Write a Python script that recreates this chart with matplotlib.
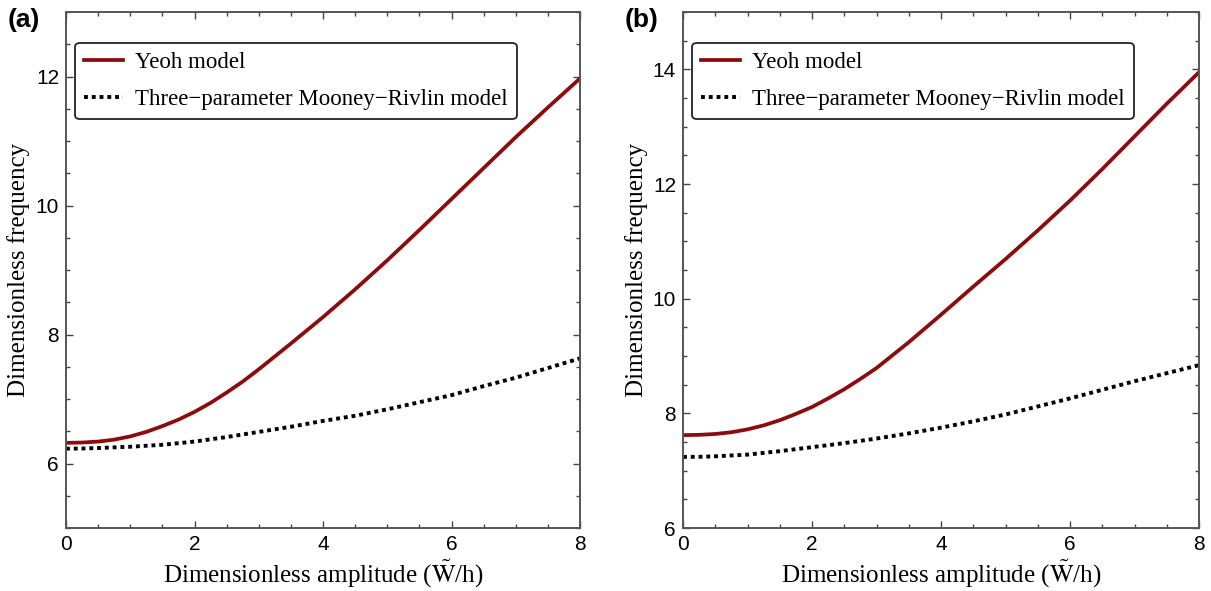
import numpy as np
import matplotlib
matplotlib.use("Agg")
import matplotlib.pyplot as plt
from matplotlib.ticker import MultipleLocator

# amplitude grid (finer where the curves bend)
amp = [0, 0.25, 0.5, 0.75, 1, 1.25, 1.5, 1.75, 2, 2.25, 2.5, 2.75, 3,
       3.5, 4, 4.5, 5, 5.5, 6, 6.5, 7, 7.5, 8]

# panel (a)
yeoh_a = [6.32, 6.325, 6.34, 6.37, 6.42, 6.49, 6.58, 6.68, 6.80, 6.94,
          7.10, 7.27, 7.46, 7.86, 8.27, 8.70, 9.15, 9.62, 10.10, 10.58,
          11.06, 11.52, 11.97]
mr_a = [6.23, 6.232, 6.24, 6.25, 6.26, 6.275, 6.29, 6.315, 6.34, 6.375,
        6.41, 6.45, 6.49, 6.57, 6.66, 6.74, 6.84, 6.95, 7.06, 7.20,
        7.33, 7.48, 7.63]

# panel (b)
yeoh_b = [7.62, 7.625, 7.64, 7.67, 7.72, 7.79, 7.88, 7.99, 8.11, 8.26,
          8.42, 8.60, 8.79, 9.24, 9.72, 10.21, 10.69, 11.19, 11.71, 12.26,
          12.83, 13.40, 13.95]
mr_b = [7.24, 7.242, 7.25, 7.265, 7.28, 7.31, 7.34, 7.375, 7.41, 7.445,
        7.48, 7.52, 7.56, 7.65, 7.75, 7.86, 7.98, 8.12, 8.26, 8.41,
        8.56, 8.70, 8.84]

labels = ["Yeoh model", "Three\u2212parameter Mooney\u2212Rivlin model"]

plt.rcParams["mathtext.fontset"] = "stix"
serif = "Liberation Serif"
sans = "Liberation Sans"

fig = plt.figure(figsize=(12.11, 5.91), dpi=100)
ax1 = fig.add_axes((66 / 1211, 1 - 528 / 591, 514 / 1211, 516 / 591))
ax2 = fig.add_axes((683 / 1211, 1 - 528 / 591, 516 / 1211, 516 / 591))

panels = [(ax1, yeoh_a, mr_a, (5, 13), "(a)", -0.07),
          (ax2, yeoh_b, mr_b, (6, 15), "(b)", -0.068)]

for ax, yeoh, mr, ylim, tag, ylab_x in panels:
    ax.plot(amp, yeoh, color="#8e0b0b", lw=2.7, solid_joinstyle="round",
            label=labels[0])
    ax.plot(amp, mr, color="black", lw=2.8, linestyle=(0, (1, 1.0)),
            label=labels[1])
    ax.set_xlim(0, 8)
    ax.set_ylim(*ylim)
    ax.xaxis.set_major_locator(MultipleLocator(2))
    ax.xaxis.set_minor_locator(MultipleLocator(0.5))
    ax.yaxis.set_major_locator(MultipleLocator(2))
    ax.yaxis.set_minor_locator(MultipleLocator(0.5))
    ax.tick_params(which="both", direction="in", top=True, right=True,
                   color="#444444", width=1.0)
    ax.tick_params(which="major", length=5, labelsize=15, pad=5)
    ax.tick_params(which="minor", length=3)
    for lbl in ax.get_xticklabels() + ax.get_yticklabels():
        lbl.set_fontfamily(sans)
    for sp in ax.spines.values():
        sp.set_color("#555555")
        sp.set_linewidth(1.4)
    ax.set_xlabel(r"Dimensionless amplitude ($\tilde{\mathrm{W}}$/h)",
                  fontfamily=serif, fontsize=18, labelpad=2)
    ax.set_ylabel("Dimensionless frequency", fontfamily=serif, fontsize=18)
    ax.yaxis.set_label_coords(ylab_x, 0.5)
    leg = ax.legend(loc="upper left", bbox_to_anchor=(0.0, 0.958),
                    prop={"family": serif, "size": 16.5}, frameon=True,
                    fancybox=True, edgecolor="#222222", framealpha=1,
                    handlelength=1.7, borderpad=0.4, labelspacing=0.7,
                    handletextpad=0.5, borderaxespad=0.4)
    leg.get_frame().set_linewidth(1.3)
    ax.text(-0.113, 0.985, tag, transform=ax.transAxes, fontfamily=sans,
            fontweight="bold", fontsize=19, ha="left", va="center")

fig.savefig("out.png", dpi=100)
